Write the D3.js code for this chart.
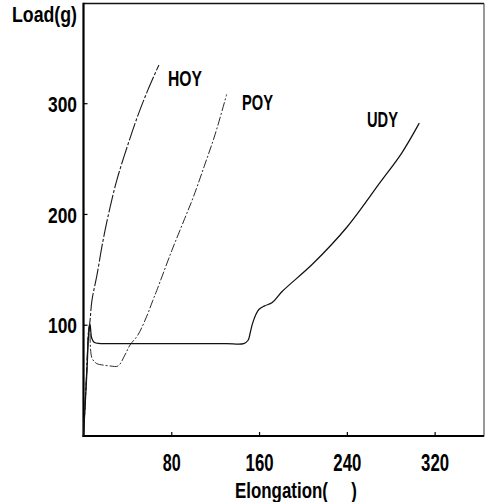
<!DOCTYPE html>
<html><head><meta charset="utf-8">
<script src="https://cdn.jsdelivr.net/npm/d3@7/dist/d3.min.js"></script>
<style>body{margin:0;background:#fff}svg{display:block}</style>
</head><body><svg id="c" width="485" height="502"></svg>
<script>
// ---- data ----
const xTicks = [80, 160, 240, 320];
const yTicks = [100, 200, 300];
const seriesNames = ["HOY", "POY", "UDY"];
const hoyX = [0, 2.5, 4.5, 6, 7.7, 12.3, 17.8, 24.2, 30.5, 39.6, 49.6, 58.7, 68.7];
const hoyY = [0, 50, 90, 104, 122, 145, 176, 206, 231, 260, 289, 312, 334.5];
const poyX = [0, 3, 4.5, 5.5, 7.7, 12, 17.7, 25, 31.4, 37.7, 42.3, 49.5, 57.7, 63.2, 66.8, 80.5, 92.3, 100, 110, 120, 130.5];
const poyY = [0, 60, 95, 100, 70, 65, 63.6, 62.7, 62.7, 72.6, 81.6, 90.6, 107.8, 122, 131, 167, 196, 215, 243, 272, 308];
const udyX = [0, 3, 5, 6, 7.5, 10, 30, 60, 100, 130, 146, 150, 152, 154, 157, 160, 165, 172, 181, 209, 240, 270, 290, 306];
const udyY = [0, 55, 95, 100, 88, 84, 83, 83, 83, 83, 83, 86, 93, 101, 109, 114, 117, 120, 130, 155, 188, 228, 255, 282];

// ---- layout ----
const svg = d3.select("#c");
const L = 83.5, R = 484, T = 3.5, B = 435.5;
const x = d3.scaleLinear().domain([0, 365]).range([L, R]);
const y = d3.scaleLinear().domain([0, 390]).range([B, T]);
const FONT = "'Liberation Sans', Arial, sans-serif";

// frame
svg.append("line").attr("x1", L).attr("x2", R).attr("y1", T).attr("y2", T)
  .attr("stroke", "#111").attr("stroke-width", 1.5);
svg.append("line").attr("x1", R).attr("x2", R).attr("y1", T).attr("y2", B + 1)
  .attr("stroke", "#333").attr("stroke-width", 1);
svg.append("line").attr("x1", L).attr("x2", L).attr("y1", T - 0.75).attr("y2", B + 1.5)
  .attr("stroke", "#000").attr("stroke-width", 2.2);
svg.append("line").attr("x1", L - 1).attr("x2", R).attr("y1", B + 0.5).attr("y2", B + 0.5)
  .attr("stroke", "#000").attr("stroke-width", 2.2);

// axes
const yAxis = d3.axisLeft(y).tickValues(yTicks).tickSize(-4).tickPadding(9);
const gy = svg.append("g").attr("transform", `translate(${L},0)`).call(yAxis);
gy.select(".domain").remove();
gy.selectAll(".tick line").attr("stroke", "#000").attr("stroke-width", 1.2);
gy.selectAll(".tick text").attr("font-family", FONT).attr("font-weight", "bold")
  .attr("font-size", 22.5).attr("fill", "#000").attr("dy", "0.36em")
  .attr("x", -6.5).attr("textLength", 29).attr("lengthAdjust", "spacingAndGlyphs");

const xAxis = d3.axisBottom(x).tickValues(xTicks).tickSize(-4).tickPadding(14);
const gx = svg.append("g").attr("transform", `translate(0,${B + 0.5})`).call(xAxis);
gx.select(".domain").remove();
gx.selectAll(".tick line").attr("stroke", "#000").attr("stroke-width", 1.2);
gx.selectAll(".tick text").attr("font-family", FONT).attr("font-weight", "bold")
  .attr("font-size", 23).attr("fill", "#000").attr("dy", null).attr("y", 34.5)
  .attr("textLength", d => d < 100 ? 18 : 28).attr("lengthAdjust", "spacingAndGlyphs");

// titles
svg.append("text").attr("x", 12).attr("y", 21.5).text("Load(g)")
  .attr("font-family", FONT).attr("font-weight", "bold").attr("font-size", 22)
  .attr("textLength", 65).attr("lengthAdjust", "spacingAndGlyphs");
svg.append("text").attr("x", 235).attr("y", 497.5).text("Elongation(\u00a0\u00a0\u00a0\u00a0\u00a0)")
  .attr("font-family", FONT).attr("font-weight", "bold").attr("font-size", 22)
  .attr("textLength", 122).attr("lengthAdjust", "spacingAndGlyphs");

// curves
const line = d3.line().x(d => x(d[0])).y(d => y(d[1])).curve(d3.curveCatmullRom.alpha(0.5));
const series = [
  {name: seriesNames[0], xs: hoyX, ys: hoyY, dash: "18,2,3,2", w: 1.1, c: "#1a1a1a"},
  {name: seriesNames[1], xs: poyX, ys: poyY, dash: "9,2,2,2", w: 1.0, c: "#2a2a2a"},
  {name: seriesNames[2], xs: udyX, ys: udyY, dash: null, w: 1.25, c: "#111"}
];
series.forEach(s => {
  svg.append("path").datum(s.xs.map((v, i) => [v, s.ys[i]]))
    .attr("d", line).attr("fill", "none").attr("stroke", s.c)
    .attr("stroke-width", s.w).attr("stroke-dasharray", s.dash);
});

// series labels
const labelPos = [[168, 86, 34], [242, 110, 31], [367, 127, 31]];
seriesNames.forEach((n, i) => {
  svg.append("text").attr("x", labelPos[i][0]).attr("y", labelPos[i][1]).text(n)
    .attr("font-family", FONT).attr("font-weight", "bold").attr("font-size", 22)
    .attr("textLength", labelPos[i][2]).attr("lengthAdjust", "spacingAndGlyphs");
});
</script></body></html>
